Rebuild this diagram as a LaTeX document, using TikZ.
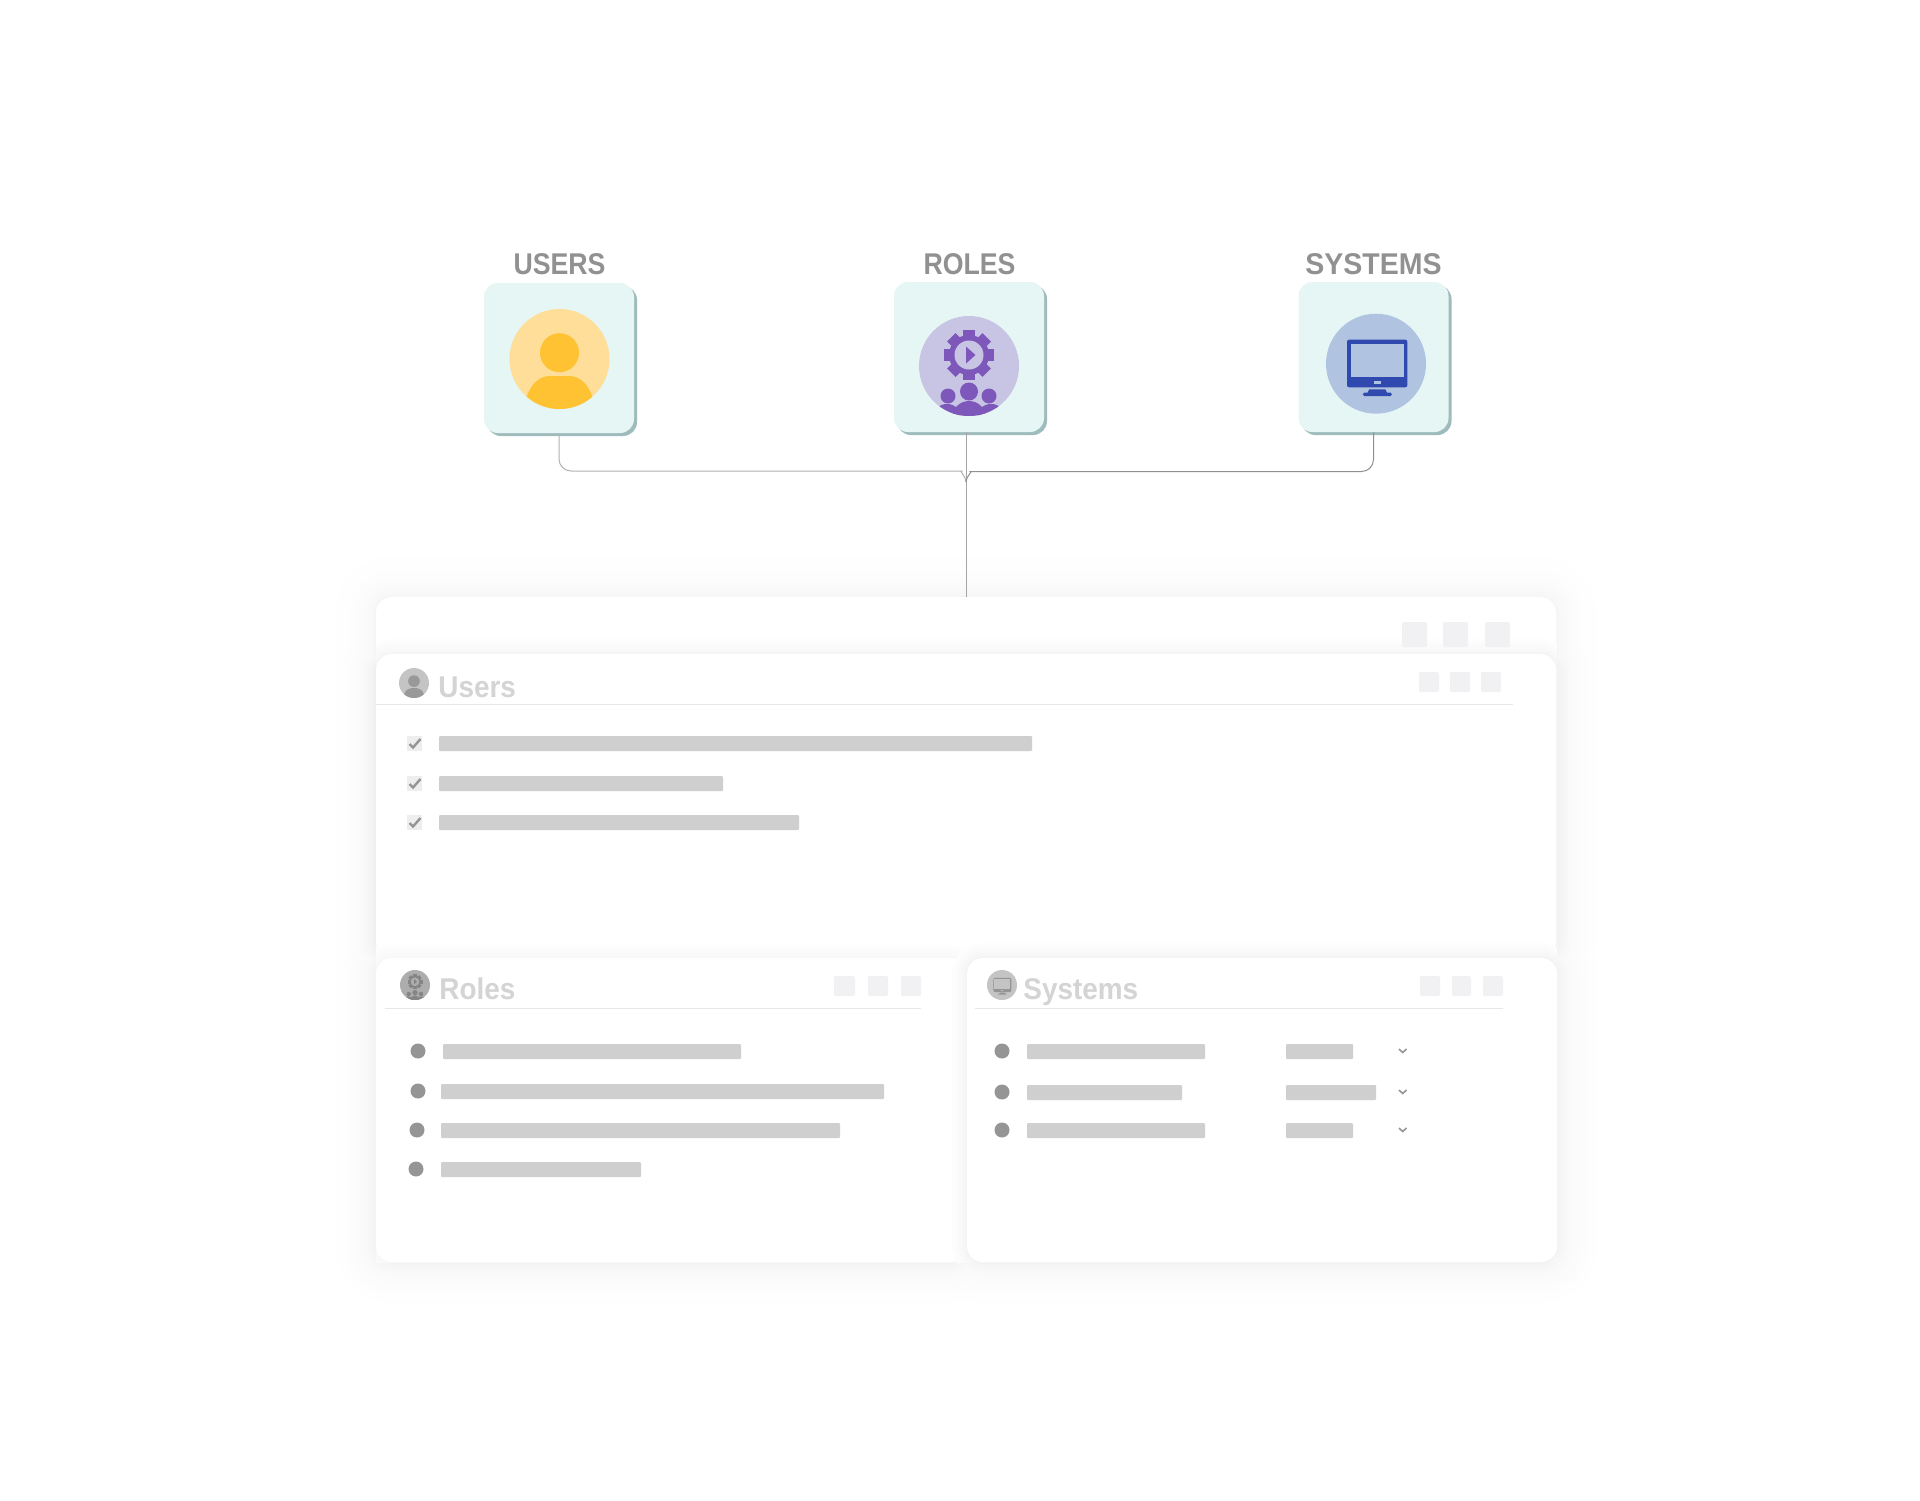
\documentclass[tikz,border=0pt]{standalone}
\usepackage{fontspec}
\setmainfont{Liberation Sans}
\newfontfamily\capsfont{Liberation Sans}[FakeStretch=0.89]
\newfontfamily\widecapsfont{Liberation Sans}[FakeStretch=0.95]
\newfontfamily\headfont{Liberation Sans}[FakeStretch=0.93]
\usetikzlibrary{shadows}

\definecolor{cardfill}{HTML}{E6F6F5}
\definecolor{cardedge}{HTML}{9FBCBC}
\definecolor{capsgray}{HTML}{919191}
\definecolor{headgray}{HTML}{D4D4D4}
\definecolor{bargray}{HTML}{CFCFCF}
\definecolor{dotgray}{HTML}{959595}
\definecolor{tilegray}{HTML}{F1F1F3}
\definecolor{boxgray}{HTML}{EEEEEE}
\definecolor{rulegray}{HTML}{E8E8E8}
\definecolor{wiregray}{HTML}{909090}
\definecolor{userdisc}{HTML}{FEDE99}
\definecolor{userfig}{HTML}{FFC233}
\definecolor{roledisc}{HTML}{C7C5E3}
\definecolor{rolefig}{HTML}{7E57BA}
\definecolor{sysdisc}{HTML}{B0C3E0}
\definecolor{sysfig}{HTML}{2F49AE}

% Glyphs around the origin, in a disc of radius 50: {disc colour}{figure colour}
\newcommand{\userglyph}[2]{
  \fill[#1] (0,0) circle (50);
  \fill[#2] (0,-6.3) circle (19.5);
  \begin{scope}
    \clip (0,0) circle (50);
    \fill[#2] (-33,50) -- (-33,38) .. controls (-28,24) and (-20,17) .. (-9,17)
      -- (9,17) .. controls (20,17) and (28,24) .. (33,38) -- (33,50) -- cycle;
  \end{scope}
}
\newcommand{\roleglyph}[2]{
  \fill[#1] (0,0) circle (50);
  \begin{scope}[shift={(0,-11)}]
    \foreach \a in {0,45,...,315} {
      \fill[#2,rotate=\a] (-6,-25) rectangle (6,-16);
    }
    \fill[#2] (0,0) circle (20);
    \fill[#1] (0,0) circle (14.5);
    \fill[#2] (-3,-8.5) -- (6.5,0) -- (-3,8.5) -- cycle;
  \end{scope}
  \fill[#2] (0,25.5) circle (9);
  \fill[#2] (-21,30) circle (7.5);
  \fill[#2] (20,30) circle (7.5);
  \begin{scope}
    \clip (0,0) circle (50);
    \fill[#2] (0,52) ellipse [x radius=17, y radius=17];
    \fill[#2] (-22,50) ellipse [x radius=14, y radius=12];
    \fill[#2] (22,50) ellipse [x radius=14, y radius=12];
  \end{scope}
}
\newcommand{\sysglyph}[2]{
  \fill[#1] (0,0) circle (50);
  \fill[#2,rounded corners=1pt] (-29,-24) rectangle (31.3,23.6);
  \fill[#1] (-25.3,-20) rectangle (27.7,13.7);
  \fill[#1] (-2,17.3) rectangle (4.7,20);
  \fill[#2] (-6.7,25.6) -- (9.3,25.6) -- (11,29) -- (14.5,29)
    .. controls (16.5,29) and (16.5,32.3) .. (14.5,32.3) -- (-11.8,32.3)
    .. controls (-13.8,32.3) and (-13.8,29) .. (-11.8,29) -- (-8.4,29) -- cycle;
}
% One layer of a soft shadow, \d and \g from the loop: {x1}{y1}{x2}{y2}{strength}
\newcommand{\softlayer}[5]{
  \pgfmathsetmacro{\shade}{\g*#5}
  \fill[black!\shade,rounded corners=8pt+0.5pt*\d]
    (#1-\d,#2-\d) rectangle (#3+\d,#4+\d);
}
% Short shadow that one panel throws on the panel beside it
\newcommand{\nearshadow}[5]{
  \begin{scope}
    \clip (376,597) rectangle (1557,1262);
    \foreach \d/\g in {15/1,11/2,8/3,5/4,2/5.5} {
      \softlayer{#1}{#2}{#3}{#4}{#5}
    }
  \end{scope}
}

\begin{document}
\begin{tikzpicture}[x=0.5pt,y=-0.5pt]
\tikzstyle{every node}=[font=\bfseries\fontsize{15}{15}\selectfont]
\tikzstyle{cardbox}=[rectangle,fill=cardfill,rounded corners=7pt,minimum width=75pt,
  minimum height=75pt,inner sep=0pt,
  general shadow={fill=cardedge,shadow xshift=1.5pt,shadow yshift=-1.5pt}]
\tikzstyle{panelbox}=[rectangle,fill=white,rounded corners=8pt,inner sep=0pt]
\tikzstyle{capslabel}=[text=capsgray,inner sep=0pt,anchor=base,font=\capsfont\bfseries\fontsize{15}{15}\selectfont]
\tikzstyle{headlabel}=[text=headgray,inner sep=0pt,anchor=base west,font=\headfont\bfseries\fontsize{15}{15}\selectfont]
\tikzstyle{wire}=[draw=wiregray,line width=0.5pt]
\tikzstyle{bar}=[fill=bargray,rounded corners=0.5pt]
\tikzstyle{tile}=[fill=tilegray,rounded corners=1pt]
\tikzstyle{hairline}=[draw=rulegray,line width=0.6pt]
\tikzstyle{chevron}=[draw=dotgray,line width=0.8pt]
\tikzstyle{tick}=[draw=dotgray,line width=1.2pt]

\useasboundingbox (0,0) rectangle (1920,1500);
\fill[white] (0,0) rectangle (1920,1500);

%
% Draw the three cards on top
%

\node[cardbox] (usercard) at (559,358) {};
\node[cardbox] (rolecard) at (969,357) {};
\node[cardbox] (syscard) at (1373.5,357) {};

\node[capslabel] (userlabel) at (559.5,274) {USERS};
\node[capslabel] (rolelabel) at (969.5,274) {ROLES};
\node[capslabel,font=\widecapsfont\bfseries\fontsize{15}{15}\selectfont] (syslabel) at (1373.5,274) {SYSTEMS};

% The icons in the cards
\begin{scope}[shift={(559.5,359)}]
  \userglyph{userdisc}{userfig}
\end{scope}
\begin{scope}[shift={(969,366)}]
  \roleglyph{roledisc}{rolefig}
\end{scope}
\begin{scope}[shift={(1376,363.7)}]
  \sysglyph{sysdisc}{sysfig}
\end{scope}

%
% Draw the panels, the shadows round all of them first
%

\foreach \d/\g in {40/0.4,32/0.8,26/1.2,20/1.7,15/2.3,11/3,8/3.8,5/4.8,2/6} {
  \softlayer{376}{597}{1556}{957}{0.6}
  \softlayer{376}{654}{1556}{957}{1}
  \softlayer{376}{958}{966}{1262}{0.8}
  \softlayer{967}{958}{1557}{1262}{0.8}
}

\node[panelbox,minimum width=590pt,minimum height=180pt] (backpanel) at (966,777) {};

\nearshadow{376}{654}{1556}{957}{0.7}
\node[panelbox,minimum width=590pt,minimum height=151.5pt] (userpanel) at (966,805.5) {};

\nearshadow{376}{958}{966}{1262}{0.5}
\node[panelbox,minimum width=295pt,minimum height=152pt] (rolepanel) at (671,1110) {};

\nearshadow{967}{958}{1557}{1262}{0.8}
\node[panelbox,minimum width=295pt,minimum height=152pt] (syspanel) at (1262,1110) {};

%
% Draw the connection from the cards to the panels
%

\coordinate (junction) at (966,482);
\coordinate (leftbend) at (950,471);
\coordinate (rightbend) at (982,471.5);

\draw[wire,draw=black!35] (junction |- rolecard.south) -- (junction |- backpanel.north);
\draw[wire,draw=black!30,rounded corners=6pt] (usercard.south) |- (leftbend) [sharp corners]
  .. controls (958.8,471) and (966,476) .. (junction);
\draw[wire,rounded corners=6pt] (syscard.south) |- (rightbend) [sharp corners]
  .. controls (973.2,471.5) and (966,476) .. (junction);

%
% Draw the back panel
%

\fill[tile] (1402,622) rectangle (1427,647);
\fill[tile] (1443,622) rectangle (1468,647);
\fill[tile] (1485,622) rectangle (1510,647);

%
% Draw the users panel
%

\begin{scope}[shift={(414,683)},scale=0.3]
  \userglyph{black!23}{black!40}
\end{scope}
\node[headlabel] (userhead) at (438,697) {Users};

\fill[tile] (1419,672) rectangle (1439,692);
\fill[tile] (1450,672) rectangle (1470,692);
\fill[tile] (1481,672) rectangle (1501,692);

\draw[hairline] (376,704.5) -- (1513,704.5);

% Check boxes
\fill[boxgray] (407,736) rectangle (422,751);
\fill[boxgray] (407,776) rectangle (422,791);
\fill[boxgray] (407,815) rectangle (422,830);
\draw[tick] (409.5,744) -- (413,747.5) -- (420.5,739);
\draw[tick] (409.5,784) -- (413,787.5) -- (420.5,779);
\draw[tick] (409.5,823) -- (413,826.5) -- (420.5,818);

\fill[bar] (439,736) rectangle (1032,751);
\fill[bar] (439,776) rectangle (723,791);
\fill[bar] (439,815) rectangle (799,830);

%
% Draw the roles panel
%

\begin{scope}[shift={(415,985)},scale=0.3]
  \roleglyph{black!32}{black!48}
\end{scope}
\node[headlabel] (rolehead) at (439,999) {Roles};

\fill[tile] (834,976) rectangle (855,996);
\fill[tile] (868,976) rectangle (888,996);
\fill[tile] (901,976) rectangle (921,996);

\draw[hairline] (385,1008.5) -- (921,1008.5);

\fill[dotgray] (418,1051) circle (7.5);
\fill[dotgray] (418,1091) circle (7.5);
\fill[dotgray] (417,1130) circle (7.5);
\fill[dotgray] (416,1169) circle (7.5);

\fill[bar] (443,1044) rectangle (741,1059);
\fill[bar] (441,1084) rectangle (884,1099);
\fill[bar] (441,1123) rectangle (840,1138);
\fill[bar] (441,1162) rectangle (641,1177);

%
% Draw the systems panel
%

\begin{scope}[shift={(1002,985)},scale=0.3]
  \sysglyph{black!23}{black!42}
\end{scope}
\node[headlabel] (syshead) at (1023,999) {Systems};

\fill[tile] (1420,976) rectangle (1440,996);
\fill[tile] (1452,976) rectangle (1471,996);
\fill[tile] (1483,976) rectangle (1503,996);

\draw[hairline] (975,1008.5) -- (1503,1008.5);

\fill[dotgray] (1002,1051) circle (7.5);
\fill[dotgray] (1002,1092) circle (7.5);
\fill[dotgray] (1002,1130) circle (7.5);

\fill[bar] (1027,1044) rectangle (1205,1059);
\fill[bar] (1027,1085) rectangle (1182,1100);
\fill[bar] (1027,1123) rectangle (1205,1138);

\fill[bar] (1286,1044) rectangle (1353,1059);
\fill[bar] (1286,1085) rectangle (1376,1100);
\fill[bar] (1286,1123) rectangle (1353,1138);

% The small arrows of the list
\draw[chevron] (1399,1049) -- (1402.7,1052.5) -- (1406.5,1049);
\draw[chevron] (1399,1090) -- (1402.7,1093.5) -- (1406.5,1090);
\draw[chevron] (1399,1128) -- (1402.7,1131.5) -- (1406.5,1128);

\end{tikzpicture}
\end{document}
